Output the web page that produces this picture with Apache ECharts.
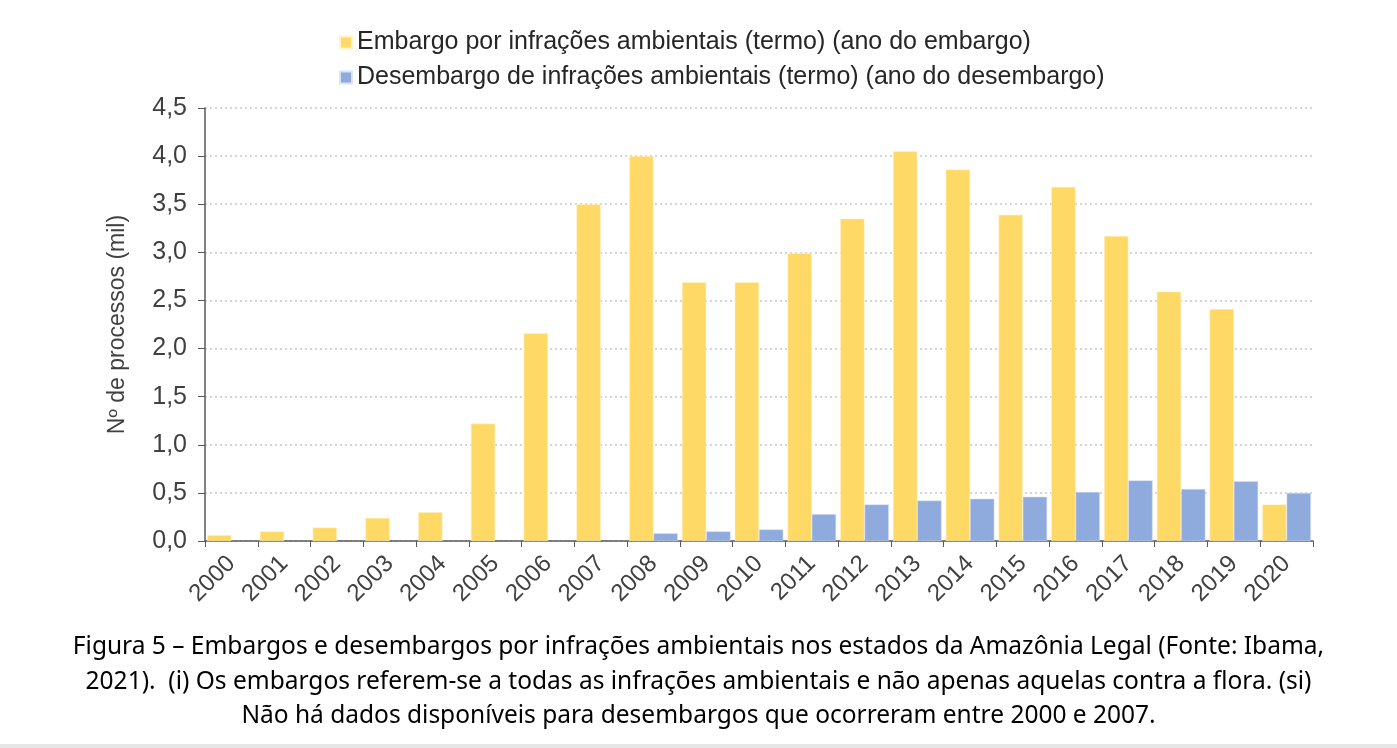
<!DOCTYPE html>
<html>
<head>
<meta charset="utf-8">
<script src="https://cdn.jsdelivr.net/npm/echarts@6/dist/echarts.min.js"></script>
<style>
  html, body { margin: 0; padding: 0; background: #fff; }
  #chartId { width: 1397px; height: 748px; }
</style>
</head>
<body>
<div id="chartId"></div>
<script>
var years = ['2000', '2001', '2002', '2003', '2004', '2005', '2006', '2007', '2008', '2009', '2010',
  '2011', '2012', '2013', '2014', '2015', '2016', '2017', '2018', '2019', '2020']
// embargos (mil)
var embargoData = [0.06, 0.10, 0.14, 0.24, 0.30, 1.22, 2.16, 3.50, 4.00, 2.69, 2.69,
  2.99, 3.35, 4.05, 3.86, 3.39, 3.68, 3.17, 2.59, 2.41, 0.38]
// desembargos (mil) - sem dados de 2000 a 2007
var desembargoData = [null, null, null, null, null, null, null, null, 0.08, 0.10, 0.12,
  0.28, 0.38, 0.42, 0.44, 0.46, 0.51, 0.63, 0.54, 0.62, 0.50]
var seriesNames = ['Embargo por infrações ambientais (termo) (ano do embargo)',
  'Desembargo de infrações ambientais (termo) (ano do desembargo)']
var captionLines = [
  'Figura 5 – Embargos e desembargos por infrações ambientais nos estados da Amazônia Legal (Fonte: Ibama,',
  '2021).  (i) Os embargos referem-se a todas as infrações ambientais e não apenas aquelas contra a flora. (si)',
  'Não há dados disponíveis para desembargos que ocorreram entre 2000 e 2007.'
]

var myChart = echarts.init(document.getElementById('chartId'))
myChart.setOption({
  animation: false,
  textStyle: { fontFamily: 'Liberation Sans, Arial, sans-serif' },
  legend: {
    data: seriesNames,
    orient: 'vertical',
    left: 334,
    top: 25,
    itemWidth: 12,
    itemHeight: 12,
    itemGap: 10,
    icon: 'rect',
    textStyle: { fontSize: 25, color: '#262626' }
  },
  grid: { left: 205, right: 84, top: 108, bottom: 207 },
  xAxis: {
    type: 'category',
    data: years,
    axisLine: { lineStyle: { color: '#595959', width: 1.5 } },
    axisTick: { show: true, length: 6, lineStyle: { color: '#595959' } },
    axisLabel: { rotate: 45, fontSize: 24, color: '#404040', margin: 19 }
  },
  yAxis: {
    type: 'value',
    min: 0,
    max: 4.5,
    interval: 0.5,
    name: 'Nº de processos (mil)',
    nameLocation: 'middle',
    nameGap: 76,
    nameTextStyle: { fontSize: 23, color: '#404040' },
    axisLine: { show: true, lineStyle: { color: '#595959', width: 1.5 } },
    axisTick: { show: true, length: 7, lineStyle: { color: '#595959' } },
    axisLabel: {
      fontSize: 25, color: '#404040', margin: 18,
      formatter: function (v) { return v.toFixed(1).replace('.', ',') }
    },
    splitLine: { lineStyle: { color: '#c8c8c8', type: [2, 3], width: 1.5 } }
  },
  series: [{
    name: seriesNames[0],
    type: 'bar',
    data: embargoData,
    barGap: '0%',
    barCategoryGap: '8%',
    itemStyle: { color: '#FFD966', borderColor: '#FFF2CC', borderWidth: 0.5 }
  }, {
    name: seriesNames[1],
    type: 'bar',
    data: desembargoData,
    barGap: '0%',
    barCategoryGap: '8%',
    itemStyle: { color: '#8FAADC', borderColor: '#DAE3F3', borderWidth: 0.5 }
  }],
  graphic: [{
    type: 'text',
    left: 'center',
    top: 630,
    style: {
      text: captionLines.join('\n'),
      textAlign: 'center',
      font: '24.5px "Noto Sans", sans-serif',
      lineHeight: 34.5,
      fill: '#000'
    }
  }, {
    type: 'rect',
    shape: { x: 0, y: 744, width: 1397, height: 4 },
    style: { fill: '#e6e6e6' }
  }]
})
</script>
</body>
</html>
